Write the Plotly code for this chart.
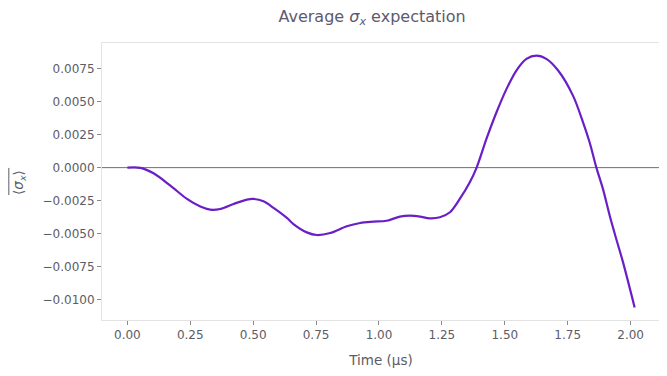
import plotly.graph_objects as go

# Data (time in µs, average <sigma_x>)
time_us = [0.0, 0.052, 0.104, 0.171, 0.237, 0.29, 0.329, 0.369, 0.422, 0.475, 0.501,
           0.541, 0.581, 0.634, 0.66, 0.713, 0.753, 0.806, 0.872, 0.925, 0.977, 1.03,
           1.083, 1.123, 1.163, 1.202, 1.242, 1.282, 1.321, 1.361, 1.388, 1.427, 1.467,
           1.507, 1.546, 1.586, 1.626, 1.665, 1.712, 1.771, 1.811, 1.837, 1.864, 1.89,
           1.917, 1.943, 1.97, 2.016]
sigma_x = [0.0, -0.00002, -0.00043, -0.00136, -0.00237, -0.00295, -0.00318, -0.00313,
           -0.00275, -0.00242, -0.00237, -0.00255, -0.00305, -0.00381, -0.00427, -0.0049,
           -0.0051, -0.00495, -0.00444, -0.00419, -0.00409, -0.00402, -0.00371, -0.00364,
           -0.00371, -0.00384, -0.00376, -0.00338, -0.00237, -0.00111, 0.0, 0.00217,
           0.00419, 0.00596, 0.00735, 0.00823, 0.00848, 0.00823, 0.00735, 0.00545,
           0.00343, 0.00192, 0.0, -0.00161, -0.00364, -0.0054, -0.00717, -0.01058]

x_ticks = [0.0, 0.25, 0.5, 0.75, 1.0, 1.25, 1.5, 1.75, 2.0]
y_ticks = [0.0075, 0.005, 0.0025, 0.0, -0.0025, -0.005, -0.0075, -0.01]

xmin, xmax = min(time_us), max(time_us)
ymin, ymax = min(sigma_x), max(sigma_x)
xpad = 0.05 * (xmax - xmin)
ypad = 0.05 * (ymax - ymin)

FONT = "DejaVu Sans"
GREY = "#5c5c66"

fig = go.Figure()
fig.add_trace(go.Scatter(x=time_us, y=sigma_x, mode="lines",
                         line=dict(color="#6a1fc6", width=2.2, shape="spline", smoothing=0.9),
                         showlegend=False, hoverinfo="skip"))

fig.add_hline(y=0, line=dict(color="#6e6e6e", width=1), layer="below")

fig.update_layout(
    width=667, height=376,
    margin=dict(l=94, r=15, t=35, b=64, autoexpand=False),
    paper_bgcolor="white", plot_bgcolor="white",
    font=dict(family=FONT, color=GREY, size=12),
    title=dict(text="Average <i>σ</i><sub><i>x</i></sub> expectation",
               x=0.484, xref="paper", xanchor="center",
               y=1 - 8 / 376, yref="container", yanchor="middle",
               font=dict(family=FONT, size=16, color="#60596e")),
)

fig.update_xaxes(range=[xmin - xpad, xmax + xpad], tickvals=x_ticks,
                 ticktext=[f"{v:.2f}" for v in x_ticks], automargin=False,
                 showgrid=False, zeroline=False, showline=True, mirror=True,
                 linecolor="#e3e3e3", linewidth=1, ticks="outside", ticklen=4,
                 tickcolor="#8a8a8a", tickfont=dict(size=12, color=GREY),
                 title=dict(text="Time (µs)", font=dict(size=13.5, color=GREY), standoff=14))
fig.update_yaxes(range=[ymin - ypad, ymax + ypad], tickvals=y_ticks, automargin=False,
                 ticktext=[("−" if v < 0 else "") + f"{abs(v):.4f}" for v in y_ticks],
                 showgrid=False, zeroline=False, showline=True, mirror=True,
                 linecolor="#e3e3e3", linewidth=1, ticks="outside", ticklen=4,
                 tickcolor="#8a8a8a", tickfont=dict(size=12, color=GREY))

# y-axis label with overline
fig.add_annotation(text="⟨<i>σ</i><sub><i>x</i></sub>⟩", textangle=-90,
                   xref="paper", yref="paper", x=-0.149, y=0.498,
                   xanchor="center", yanchor="middle", showarrow=False,
                   font=dict(family=FONT, size=13.5, color=GREY))
fig.add_shape(type="line", xref="paper", yref="paper",
              x0=-0.167, x1=-0.167, y0=0.451, y1=0.549,
              line=dict(color=GREY, width=1))

fig.write_html("out.html")
